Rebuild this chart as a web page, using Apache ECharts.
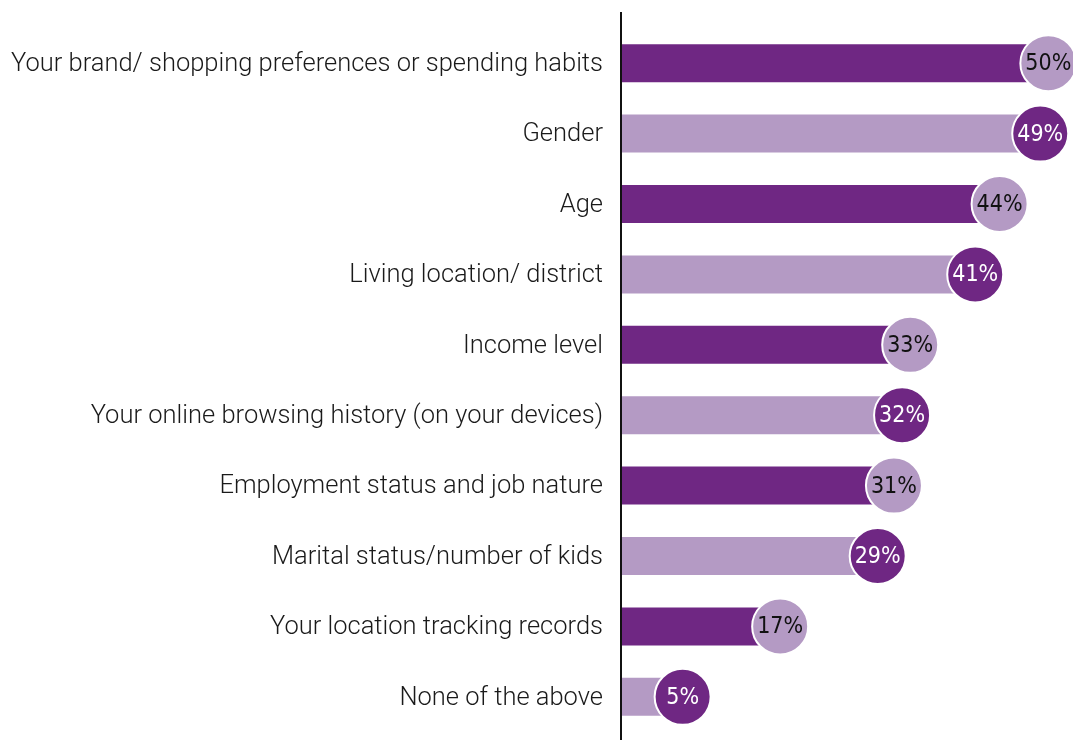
<!DOCTYPE html>
<html>
<head>
<meta charset="utf-8">
<script src="https://cdn.jsdelivr.net/npm/echarts@6/dist/echarts.min.js"></script>
<style>html,body{margin:0;padding:0;background:#fff}#c{width:1073px;height:740px}</style>
</head>
<body>
<div id="c"></div>
<script>
const categories = [
  "Your brand/ shopping preferences or spending habits",
  "Gender",
  "Age",
  "Living location/ district",
  "Income level",
  "Your online browsing history (on your devices)",
  "Employment status and job nature",
  "Marital status/number of kids",
  "Your location tracking records",
  "None of the above"
];
const values = [50, 49, 44, 41, 33, 32, 31, 29, 17, 5];

const DARK = '#6F2783';
const LIGHT = '#B49AC4';

const chart = echarts.init(document.getElementById('c'));
chart.setOption({
  animation: false,
  grid: { left: 621, right: 5, top: 28, bottom: 8, containLabel: false },
  xAxis: { type: 'value', min: 0, max: 55, show: false },
  yAxis: {
    type: 'category', data: categories, inverse: true,
    axisLine: { show: false }, axisTick: { show: false },
    axisLabel: { margin: 18, fontSize: 25.5, fontWeight: 300, color: '#1a1a1a', fontFamily: 'Roboto, sans-serif',
      verticalAlign: 'top', lineHeight: 3 }
  },
  graphic: [{
    type: 'line', shape: { x1: 621, y1: 12, x2: 621, y2: 740 },
    style: { stroke: '#111', lineWidth: 2 }, z: 10
  }],
  series: [
    {
      type: 'bar', barWidth: 38,
      data: values.map((v, i) => ({ value: v, itemStyle: { color: i % 2 === 0 ? DARK : LIGHT } }))
    },
    {
      type: 'scatter', symbol: 'circle', symbolSize: 56, symbolOffset: [21, 0], z: 5,
      emphasis: { disabled: true },
      data: values.map((v, i) => ({
        value: v,
        itemStyle: { color: i % 2 === 0 ? LIGHT : DARK, borderColor: '#fff', borderWidth: 2, opacity: 1 },
        label: { color: i % 2 === 0 ? '#111' : '#fff' }
      })),
      label: {
        show: true, position: 'inside', offset: [0, 1],
        formatter: p => p.value + '%',
        fontSize: 23, fontFamily: 'DejaVu Sans Condensed, Liberation Sans Narrow, sans-serif'
      }
    }
  ]
});
</script>
</body>
</html>
